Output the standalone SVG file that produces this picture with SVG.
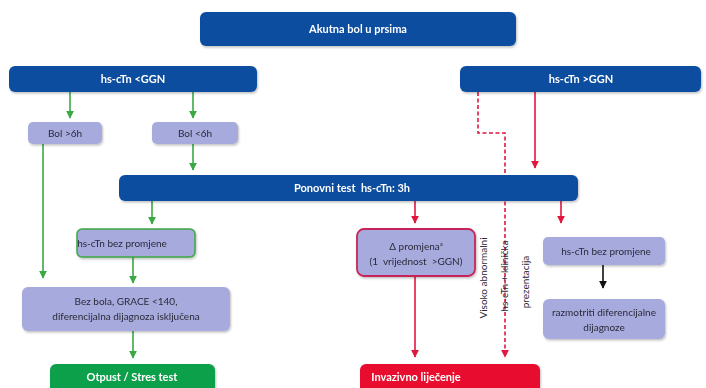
<svg xmlns="http://www.w3.org/2000/svg" width="706" height="388" viewBox="0 0 706 388">
<style>
text{font-family:Lato,"Liberation Sans",sans-serif;text-anchor:middle}
.blue{fill:#0b4d9f}
.lav{fill:#a7aadc}
.wt{fill:#fff;font-weight:bold;font-size:11px}
.dk{fill:#2a2a3a;font-size:10px}
.g{stroke:#3aa845;stroke-width:1.6;fill:none}
.r{stroke:#e0173f;stroke-width:1.6;fill:none}
.k{stroke:#111;stroke-width:1.6;fill:none}
</style>
<defs>
<marker id="ag" viewBox="0 0 10 10" refX="9" refY="5" markerWidth="5" markerHeight="6" orient="auto"><path d="M0,0L10,5L0,10z" fill="#3aa845"/></marker>
<marker id="ar" viewBox="0 0 10 10" refX="9" refY="5" markerWidth="5" markerHeight="6" orient="auto"><path d="M0,0L10,5L0,10z" fill="#e0173f"/></marker>
<marker id="ak" viewBox="0 0 10 10" refX="9" refY="5" markerWidth="5" markerHeight="6" orient="auto"><path d="M0,0L10,5L0,10z" fill="#111"/></marker>
<filter id="sh" x="-5%" y="-10%" width="110%" height="130%"><feDropShadow dx="1" dy="1.5" stdDeviation="1" flood-color="#000" flood-opacity="0.25"/></filter>
</defs>
<g id="connectors">
<path class="g" d="M70,92V118" marker-end="url(#ag)"/>
<path class="g" d="M193,92V118" marker-end="url(#ag)"/>
<path class="g" d="M193,144V170" marker-end="url(#ag)"/>
<path class="g" d="M43,144V278" marker-end="url(#ag)"/>
<path class="g" d="M152,200V224" marker-end="url(#ag)"/>
<path class="g" d="M133,257V283" marker-end="url(#ag)"/>
<path class="g" d="M133,331V358" marker-end="url(#ag)"/>
<path class="r" d="M535,92V168" marker-end="url(#ar)"/>
<path class="r" d="M478,92V133H505V357" stroke-dasharray="4,2.5" marker-end="url(#ar)"/>
<path class="r" d="M415,200V223" marker-end="url(#ar)"/>
<path class="r" d="M561,200V223" marker-end="url(#ar)"/>
<path class="r" d="M415,276V357" marker-end="url(#ar)"/>
<path class="k" d="M603,265V288" marker-end="url(#ak)"/>
</g>
<g id="n-akutna" filter="url(#sh)"><rect class="blue" x="200" y="12" width="316" height="34" rx="6"/><text class="wt" x="358" y="33">Akutna bol u prsima</text></g>
<g id="n-lt" filter="url(#sh)"><rect class="blue" x="9" y="66" width="248" height="26" rx="6"/><text class="wt" x="133" y="83">hs-cTn &lt;GGN</text></g>
<g id="n-gt" filter="url(#sh)"><rect class="blue" x="460" y="66" width="241" height="26" rx="6"/><text class="wt" x="581" y="83">hs-cTn &gt;GGN</text></g>
<g id="n-bol6p" filter="url(#sh)"><rect class="lav" x="28" y="122" width="74" height="22" rx="5"/><text class="dk" x="65" y="137">Bol &gt;6h</text></g>
<g id="n-bol6m" filter="url(#sh)"><rect class="lav" x="152" y="122" width="86" height="22" rx="5"/><text class="dk" x="195" y="137">Bol &lt;6h</text></g>
<g id="n-ponovni" filter="url(#sh)"><rect class="blue" x="119" y="175" width="459" height="26" rx="6"/><text class="wt" x="352" y="192" xml:space="preserve">Ponovni test  hs-cTn: 3h</text></g>
<g id="n-bez1" filter="url(#sh)"><rect class="lav" x="77" y="229" width="118" height="28" rx="5" stroke="#3aa845" stroke-width="1.5"/><text class="dk" x="122" y="247">hs-cTn bez promjene</text></g>
<g id="n-delta" filter="url(#sh)"><rect class="lav" x="357" y="229" width="118" height="47" rx="7" stroke="#c8245a" stroke-width="1.8"/><text class="dk" x="416" y="250">Δ promjena<tspan font-size="6" dy="-4">a</tspan></text><text class="dk" x="416" y="265" xml:space="preserve">(1  vrijednost  &gt;GGN)</text></g>
<g id="n-bez2" filter="url(#sh)"><rect class="lav" x="543" y="237" width="122" height="28" rx="5"/><text class="dk" x="606" y="255">hs-cTn bez promjene</text></g>
<g id="n-bezbola" filter="url(#sh)"><rect class="lav" x="22" y="287" width="208" height="44" rx="6"/><text class="dk" x="126" y="305">Bez bola, GRACE &lt;140,</text><text class="dk" x="126" y="320">diferencijalna dijagnoza isključena</text></g>
<g id="n-razmotriti" filter="url(#sh)"><rect class="lav" x="543" y="299" width="122" height="40" rx="6"/><text class="dk" x="604" y="316">razmotriti diferencijalne</text><text class="dk" x="604" y="331">dijagnoze</text></g>
<g id="n-otpust" filter="url(#sh)"><rect fill="#0fa04c" x="50" y="364" width="165" height="30" rx="6"/><text class="wt" x="132" y="381">Otpust / Stres test</text></g>
<g id="n-invazivno" filter="url(#sh)"><rect fill="#e8112e" x="360" y="364" width="180" height="30" rx="6"/><text class="wt" x="416" y="381">Invazivno liječenje</text></g>
<g id="l-visoko">
<text class="dk" transform="translate(487,278) rotate(-90)">Visoko abnormalni</text>
<text class="dk" transform="translate(508,276) rotate(-90)">hs-cTn + klinička</text>
<text class="dk" transform="translate(529,282) rotate(-90)">prezentacija</text>
</g>
</svg>
